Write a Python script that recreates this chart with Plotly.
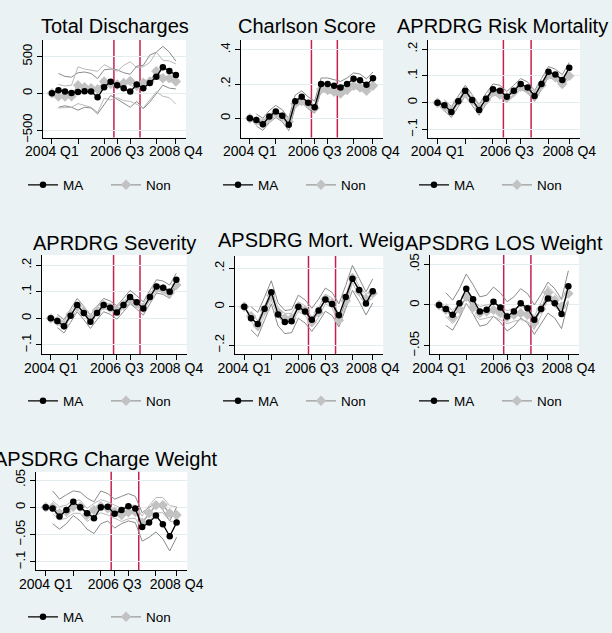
import plotly.graph_objects as go

# ---------------- data ----------------
QUARTERS = list(range(20))          # 0 = 2004 Q1 ... 19 = 2008 Q4
XTICK_VALS = [0, 4, 8, 10, 12, 16, 19]
XTICK_TEXT = ["2004 Q1", "", "", "2006 Q3", "", "", "2008 Q4"]
POLICY_LINES = [9.5, 13.5]
SERIES_NAMES = ["MA", "Non"]

TITLES = ["Total Discharges", "Charlson Score", "APRDRG Risk Mortality",
          "APRDRG Severity", "APSDRG Mort. Weight", "APSDRG LOS Weight",
          "APSDRG Charge Weight"]

YTICK_VALS = [[-500, 0, 500], [0, 0.2, 0.4], [-0.1, 0, 0.1, 0.2],
              [-0.1, 0, 0.1, 0.2], [-0.2, 0, 0.2], [-0.05, 0, 0.05],
              [-0.1, -0.05, 0, 0.05]]
YTICK_TEXT = [["−500", "0", "500"], ["0", ".2", ".4"], ["−.1", "0", ".1", ".2"],
              ["−.1", "0", ".1", ".2"], ["−.2", "0", ".2"], ["−.05", "0", ".05"],
              ["−.1", "−.05", "0", ".05"]]

# Total Discharges
P1_MA = [0, 41, 23, 5, 18, 27, 23, -55, 82, 159, 110, 70, 23, 120, 68, 140, 227, 355, 305, 250]
P1_NON = [0, -45, -45, -40, 110, 82, 68, 55, 160, 127, 120, 140, 168, 100, 145, 160, 300, 205, 205, 160]
P1_MA_HI = [None, 270, 230, 220, 280, 290, 270, 200, 320, 330, 320, 280, 260, 370, 380, 520, 560, 640, 560, 440]
P1_MA_LO = [None, -190, -170, -190, -230, -190, -200, -280, -150, -30, -80, -130, -190, -110, -210, -120, 0, 110, 70, 60]
P1_NON_HI = [None, 120, 100, 110, 360, 330, 320, 300, 390, 350, 300, 380, 430, 350, 360, 420, 560, 450, 440, 400]
P1_NON_LO = [None, -200, -190, -190, -140, -170, -190, -260, -70, -90, -60, -100, -110, -150, -200, -90, 20, -40, -60, -150]

# Charlson Score
P2_MA = [0, -0.01, -0.035, 0.01, 0.04, 0.015, -0.037, 0.1, 0.126, 0.09, 0.065, 0.2, 0.2, 0.19, 0.18, 0.2, 0.23, 0.222, 0.195, 0.233]
P2_NON = [0, -0.015, -0.03, 0.0, 0.03, 0.01, -0.02, 0.085, 0.1, 0.08, 0.06, 0.17, 0.165, 0.155, 0.145, 0.165, 0.19, 0.18, 0.16, 0.19]
P2_MA_HI = [None, 0.025, 0.0, 0.045, 0.075, 0.05, 0.0, 0.135, 0.16, 0.125, 0.1, 0.235, 0.235, 0.225, 0.215, 0.235, 0.265, 0.258, 0.23, 0.27]
P2_MA_LO = [None, -0.045, -0.07, -0.025, 0.005, -0.02, -0.072, 0.065, 0.09, 0.055, 0.03, 0.165, 0.165, 0.155, 0.145, 0.165, 0.195, 0.186, 0.16, 0.198]
P2_NON_HI = [None, 0.0, -0.015, 0.015, 0.045, 0.025, -0.005, 0.1, 0.115, 0.095, 0.075, 0.185, 0.18, 0.17, 0.16, 0.18, 0.205, 0.195, 0.175, 0.205]
P2_NON_LO = [None, -0.03, -0.045, -0.015, 0.015, -0.005, -0.035, 0.07, 0.085, 0.065, 0.045, 0.155, 0.15, 0.14, 0.13, 0.15, 0.175, 0.165, 0.145, 0.175]

# APRDRG Risk Mortality
P3_MA = [0, -0.01, -0.035, 0.005, 0.045, 0.01, -0.027, 0.015, 0.05, 0.045, 0.022, 0.045, 0.07, 0.057, 0.025, 0.07, 0.115, 0.105, 0.085, 0.13]
P3_NON = [0, -0.015, -0.03, 0.005, 0.035, 0.01, -0.02, 0.01, 0.04, 0.03, 0.02, 0.04, 0.06, 0.05, 0.03, 0.065, 0.105, 0.095, 0.07, 0.1]
P3_MA_HI = [None, 0.01, -0.015, 0.025, 0.065, 0.03, -0.007, 0.035, 0.07, 0.065, 0.042, 0.065, 0.09, 0.077, 0.045, 0.09, 0.135, 0.125, 0.105, 0.15]
P3_MA_LO = [None, -0.03, -0.055, -0.015, 0.025, -0.01, -0.047, -0.005, 0.03, 0.025, 0.002, 0.025, 0.05, 0.037, 0.005, 0.05, 0.095, 0.085, 0.065, 0.11]
P3_NON_HI = [None, -0.005, -0.02, 0.015, 0.045, 0.02, -0.01, 0.02, 0.05, 0.04, 0.03, 0.05, 0.07, 0.06, 0.04, 0.075, 0.115, 0.105, 0.08, 0.11]
P3_NON_LO = [None, -0.025, -0.04, -0.005, 0.025, 0.0, -0.03, 0.0, 0.03, 0.02, 0.01, 0.03, 0.05, 0.04, 0.02, 0.055, 0.095, 0.085, 0.06, 0.09]

# APRDRG Severity
P4_MA = [0, -0.01, -0.03, 0.01, 0.05, 0.02, -0.013, 0.02, 0.05, 0.04, 0.022, 0.05, 0.08, 0.06, 0.037, 0.08, 0.12, 0.115, 0.1, 0.145]
P4_NON = [0, -0.01, -0.025, 0.015, 0.045, 0.025, 0.0, 0.03, 0.05, 0.04, 0.03, 0.05, 0.07, 0.055, 0.04, 0.08, 0.115, 0.11, 0.095, 0.125]
P4_MA_HI = [None, 0.015, -0.005, 0.035, 0.075, 0.045, 0.012, 0.045, 0.075, 0.065, 0.047, 0.075, 0.105, 0.085, 0.062, 0.105, 0.145, 0.14, 0.125, 0.17]
P4_MA_LO = [None, -0.035, -0.055, -0.015, 0.025, -0.005, -0.038, -0.005, 0.025, 0.015, -0.003, 0.025, 0.055, 0.035, 0.012, 0.055, 0.095, 0.09, 0.075, 0.12]
P4_NON_HI = [None, 0.002, -0.013, 0.027, 0.057, 0.037, 0.012, 0.042, 0.062, 0.052, 0.042, 0.062, 0.082, 0.067, 0.052, 0.092, 0.127, 0.122, 0.107, 0.137]
P4_NON_LO = [None, -0.022, -0.037, 0.003, 0.033, 0.013, -0.012, 0.018, 0.038, 0.028, 0.018, 0.038, 0.058, 0.043, 0.028, 0.068, 0.103, 0.098, 0.083, 0.113]

# APSDRG Mort. Weight
P5_MA = [0, -0.06, -0.09, -0.01, 0.075, -0.04, -0.08, -0.075, 0.0, -0.025, -0.068, -0.02, 0.037, 0.014, -0.045, 0.05, 0.145, 0.087, 0.017, 0.08]
P5_NON = [0, -0.05, -0.1, -0.02, 0.06, -0.03, -0.06, -0.06, 0.0, -0.02, -0.08, -0.03, 0.04, 0.02, -0.07, 0.03, 0.15, 0.08, 0.04, 0.07]
P5_MA_HI = [None, 0.0, -0.03, 0.05, 0.135, 0.02, -0.02, -0.015, 0.06, 0.035, -0.008, 0.04, 0.097, 0.074, 0.015, 0.11, 0.215, 0.147, 0.077, 0.145]
P5_MA_LO = [None, -0.12, -0.155, -0.07, 0.015, -0.1, -0.14, -0.135, -0.06, -0.085, -0.128, -0.08, -0.023, -0.046, -0.105, -0.01, 0.085, 0.027, -0.043, 0.02]
P5_NON_HI = [None, -0.025, -0.075, 0.005, 0.085, -0.005, -0.035, -0.035, 0.025, 0.005, -0.055, -0.005, 0.065, 0.045, -0.045, 0.055, 0.175, 0.105, 0.065, 0.095]
P5_NON_LO = [None, -0.075, -0.125, -0.045, 0.035, -0.055, -0.085, -0.085, -0.025, -0.045, -0.105, -0.055, 0.015, -0.005, -0.095, 0.005, 0.125, 0.055, 0.015, 0.045]

# APSDRG LOS Weight
P6_MA = [0, -0.005, -0.012, 0.002, 0.02, 0.007, -0.008, -0.006, 0.004, -0.003, -0.014, -0.008, 0.002, -0.004, -0.018, -0.005, 0.008, 0.002, -0.011, 0.023]
P6_NON = [0, -0.006, -0.015, -0.005, 0.01, -0.003, -0.01, -0.008, -0.006, -0.01, -0.015, -0.012, -0.01, -0.012, -0.022, -0.005, 0.015, 0.006, -0.002, 0.014]
P6_MA_HI = [None, 0.015, 0.006, 0.02, 0.038, 0.025, 0.01, 0.012, 0.022, 0.015, 0.004, 0.01, 0.02, 0.014, 0.0, 0.013, 0.028, 0.02, 0.007, 0.042]
P6_MA_LO = [None, -0.025, -0.031, -0.016, 0.002, -0.011, -0.026, -0.024, -0.014, -0.021, -0.032, -0.026, -0.016, -0.022, -0.036, -0.023, -0.01, -0.016, -0.029, 0.004]
P6_NON_HI = [None, 0.002, -0.007, 0.003, 0.018, 0.005, -0.002, 0.0, 0.002, -0.002, -0.007, -0.004, -0.002, -0.004, -0.014, 0.003, 0.023, 0.014, 0.006, 0.022]
P6_NON_LO = [None, -0.014, -0.023, -0.013, 0.002, -0.011, -0.018, -0.016, -0.014, -0.018, -0.023, -0.02, -0.018, -0.02, -0.03, -0.013, 0.007, -0.002, -0.01, 0.006]

# APSDRG Charge Weight
P7_MA = [0, -0.002, -0.017, -0.005, 0.01, 0.0, -0.011, -0.02, 0.0, 0.001, -0.012, -0.005, 0.002, -0.002, -0.036, -0.028, -0.015, -0.031, -0.053, -0.028]
P7_NON = [0, 0.0, -0.011, -0.008, 0.001, 0.001, -0.014, -0.005, 0.002, -0.002, -0.008, -0.014, -0.009, -0.008, -0.028, -0.011, 0.004, 0.004, -0.011, -0.014]
P7_MA_HI = [None, 0.03, 0.015, 0.023, 0.03, 0.028, 0.017, 0.01, 0.03, 0.025, 0.015, 0.02, 0.025, 0.02, -0.01, 0.0, 0.008, -0.005, -0.025, 0.0]
P7_MA_LO = [None, -0.03, -0.04, -0.03, -0.015, -0.025, -0.04, -0.048, -0.03, -0.025, -0.038, -0.03, -0.025, -0.028, -0.062, -0.055, -0.045, -0.058, -0.08, -0.055]
P7_NON_HI = [None, 0.012, 0.001, 0.004, 0.013, 0.013, -0.002, 0.007, 0.014, 0.01, 0.004, -0.002, 0.003, 0.004, -0.016, 0.003, 0.018, 0.018, 0.003, 0.001]
P7_NON_LO = [None, -0.012, -0.023, -0.02, -0.011, -0.011, -0.026, -0.017, -0.01, -0.014, -0.02, -0.026, -0.021, -0.02, -0.04, -0.025, -0.01, -0.01, -0.025, -0.028]

PANEL_DATA = [
    (P1_MA, P1_NON, P1_MA_HI, P1_MA_LO, P1_NON_HI, P1_NON_LO),
    (P2_MA, P2_NON, P2_MA_HI, P2_MA_LO, P2_NON_HI, P2_NON_LO),
    (P3_MA, P3_NON, P3_MA_HI, P3_MA_LO, P3_NON_HI, P3_NON_LO),
    (P4_MA, P4_NON, P4_MA_HI, P4_MA_LO, P4_NON_HI, P4_NON_LO),
    (P5_MA, P5_NON, P5_MA_HI, P5_MA_LO, P5_NON_HI, P5_NON_LO),
    (P6_MA, P6_NON, P6_MA_HI, P6_MA_LO, P6_NON_HI, P6_NON_LO),
    (P7_MA, P7_NON, P7_MA_HI, P7_MA_LO, P7_NON_HI, P7_NON_LO),
]

# ---------------- layout (pixels) ----------------
W, H = 612, 633
FONT = "Liberation Sans, Arial, Helvetica, sans-serif"
BG = "#EAF2F3"
RED = "#c4214e"

# plot box (x0, x1, ytop, ybottom)
BOXES = [(43, 186, 40, 137.5), (241, 383, 40, 137.5), (428, 580, 40, 137.5),
         (41.7, 186.6, 255, 354), (235, 383.2, 255, 354), (429.7, 578.9, 255, 354),
         (36.3, 187.3, 471.7, 570)]
YRANGES = [[-602, 726], [-0.112, 0.4566], [-0.130, 0.234],
           [-0.134, 0.238], [-0.246, 0.269], [-0.0602, 0.0614],
           [-0.1148, 0.0652]]
XRANGE = [-1.37, 20.55]
TITLE_POS = [(114.5, 26), (307, 26), (502, 26),
             (114, 242.5), (None, 242.5), (504, 242.5),
             (106, 459)]
LEGEND_POS = [(106, 185), (301, 185), (497, 185),
              (106, 401), (301, 401), (497, 401),
              (106, 617)]


def px(x):
    return x / W


def py(y):
    return 1 - y / H


fig = go.Figure()
shapes = []
annotations = []
layout = dict(
    width=W, height=H, margin=dict(l=0, r=0, t=0, b=0, autoexpand=False),
    paper_bgcolor=BG, plot_bgcolor=BG,
    font=dict(family=FONT, color="black"),
    showlegend=True,
)

for k in range(7):
    n = "" if k == 0 else str(k + 1)
    xa, ya = "x" + n, "y" + n
    lg = "legend" + n
    x0, x1, yt, yb = BOXES[k]
    ma, non, ma_hi, ma_lo, non_hi, non_lo = PANEL_DATA[k]

    layout["xaxis" + n] = dict(
        domain=[px(x0), px(x1)], anchor=ya, range=XRANGE,
        tickvals=XTICK_VALS, ticktext=XTICK_TEXT, ticks="outside", ticklen=5,
        tickangle=0, tickcolor="black", showline=True, linecolor="black",
        linewidth=1, showgrid=False, zeroline=False, ticklabelstandoff=-4,
        tickfont=dict(size=14, color="black"), fixedrange=True)
    layout["yaxis" + n] = dict(
        domain=[py(yb), py(yt)], anchor=xa, range=YRANGES[k],
        tickvals=YTICK_VALS[k], ticktext=YTICK_TEXT[k], tickangle=-90,
        ticks="outside", ticklen=5, tickcolor="black", showline=True,
        linecolor="black", linewidth=1, showgrid=True, gridcolor="#e3ecee",
        zeroline=False, tickfont=dict(size=13, color="black"), fixedrange=True)

    # white plot region
    shapes.append(dict(type="rect", xref=xa + " domain", yref=ya + " domain",
                       x0=0, x1=1, y0=0, y1=1, fillcolor="white",
                       line=dict(width=0), layer="below"))
    for xv in POLICY_LINES:
        shapes.append(dict(type="line", xref=xa, yref=ya + " domain",
                           x0=xv, x1=xv, y0=0, y1=1,
                           line=dict(color=RED, width=1.5), layer="below"))

    for arr, col in ((ma_hi, "#8a8a8a"), (ma_lo, "#8a8a8a"),
                     (non_hi, "#b9b9b9"), (non_lo, "#b9b9b9")):
        fig.add_trace(go.Scatter(x=QUARTERS, y=arr, mode="lines", xaxis=xa, yaxis=ya,
                                 line=dict(color=col, width=1), showlegend=False,
                                 hoverinfo="skip"))
    fig.add_trace(go.Scatter(x=QUARTERS, y=non, mode="lines+markers", name=SERIES_NAMES[1],
                             xaxis=xa, yaxis=ya, legend=lg, legendrank=2,
                             line=dict(color="#9a9a9a", width=1.3),
                             marker=dict(symbol="diamond", size=8, color="#c2c2c2")))
    fig.add_trace(go.Scatter(x=QUARTERS, y=ma, mode="lines+markers", name=SERIES_NAMES[0],
                             xaxis=xa, yaxis=ya, legend=lg, legendrank=1,
                             line=dict(color="black", width=1.3),
                             marker=dict(symbol="circle", size=6.5, color="black")))

    lx, ly = LEGEND_POS[k]
    layout[lg] = dict(orientation="h", x=px(lx), xanchor="center", y=py(ly),
                      yanchor="middle", bgcolor="rgba(0,0,0,0)",
                      entrywidth=38, entrywidthmode="pixels",
                      font=dict(size=13.5, color="black", family=FONT),
                      itemclick=False, itemdoubleclick=False)

    tx, ty = TITLE_POS[k]
    if tx is not None:
        annotations.append(dict(text=TITLES[k], x=px(tx), y=py(ty), xref="paper",
                                yref="paper", xanchor="center", yanchor="middle",
                                showarrow=False, font=dict(size=20, color="black")))

# clipped title for panel 5 (covered by neighbouring panel in the original)
layout["xaxis8"] = dict(domain=[px(204), px(404)], anchor="y8", range=[204, 404],
                        visible=False, fixedrange=True)
layout["yaxis8"] = dict(domain=[py(256), py(228)], anchor="x8", range=[0, 1],
                        visible=False, fixedrange=True)
fig.add_trace(go.Scatter(x=[218], y=[0.5], mode="text", text=[TITLES[4]],
                         textposition="middle right", xaxis="x8", yaxis="y8",
                         textfont=dict(size=20, color="black", family=FONT),
                         cliponaxis=True, showlegend=False, hoverinfo="skip"))

layout["shapes"] = shapes
layout["annotations"] = annotations
fig.update_layout(**layout)
fig.write_html("out.html", config={"displayModeBar": False},
               post_script="document.body.style.margin='0';document.body.style.padding='0';")
